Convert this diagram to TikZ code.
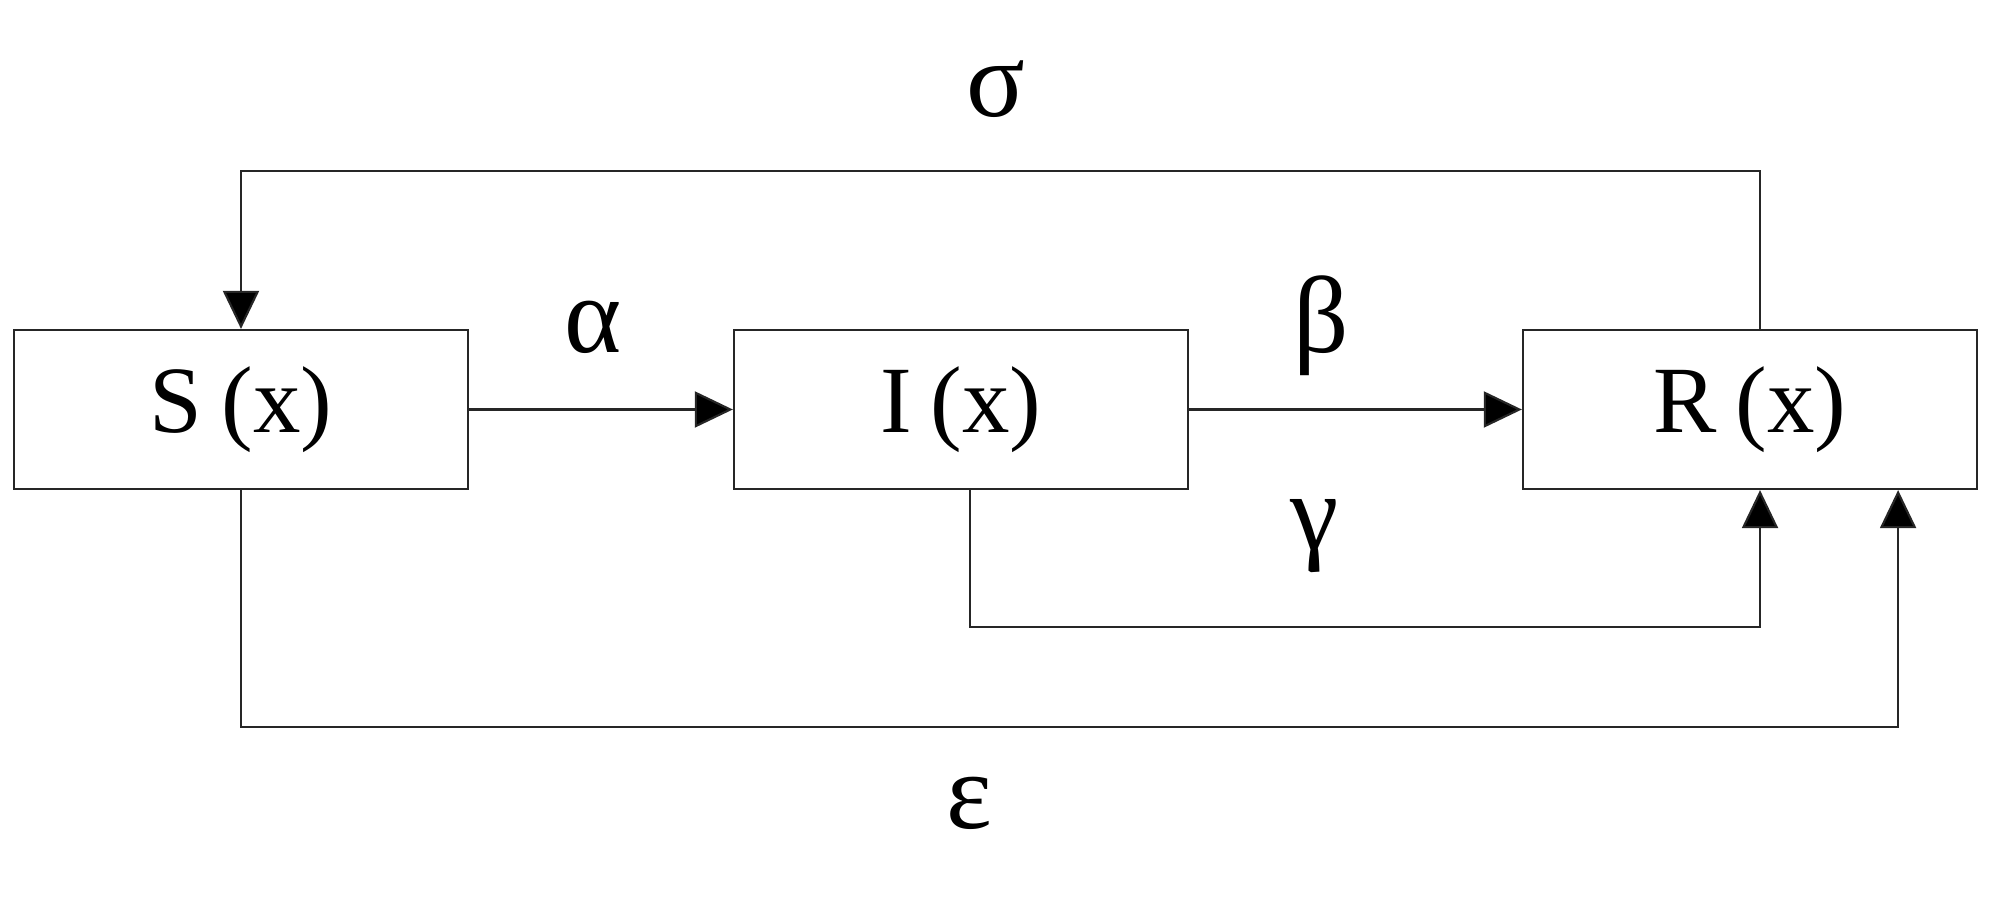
\documentclass[tikz,border=0pt]{standalone}
\usepackage{fontspec}
\setmainfont{Liberation Serif}
\usetikzlibrary{arrows.meta}
\tikzset{
  box/.style={draw=black!85, line width=0.6pt, minimum width=4.54cm, minimum height=1.59cm, inner sep=0pt, font=\fontsize{27}{31}\selectfont},
  conn/.style={draw=black!85, line width=0.6pt},
  arr/.style={conn, -{Triangle[length=3.8mm,width=3.6mm,fill=black]}},
  glab/.style={inner sep=0pt, anchor=base, font=\fontsize{31}{35}\selectfont}
}
\begin{document}
\begin{tikzpicture}[x=0.01cm, y=-0.01cm]
\useasboundingbox (0,0) rectangle (2000,907);
\node[box] (S) at (241,409.5) {S\hspace{0.2em}(x)};
\node[box] (I) at (961,409.5) {I\hspace{0.2em}(x)};
\node[box] (R) at (1750,409.5) {R\hspace{0.2em}(x)};
\draw[arr] (S.east) -- (I.west);
\draw[arr] (I.east) -- (R.west);
\draw[arr] ([xshift=1mm]R.north) -- ++(0,-158) -| (S.north);
\draw[arr] ([xshift=0.9mm]I.south) -- ++(0,137) -| ([xshift=1mm]R.south);
\draw[arr] (S.south) -- ++(0,237) -| ([xshift=14.8mm]R.south);
\node[glab] (sig) at (996,117) {σ};
\node[glab] (alp) at (593,353) {α};
\node[glab] (bet) at (1321,353) {β};
\node[glab] (gam) at (1315,550) {γ};
\node[glab] (eps) at (969,828) {ε};
\end{tikzpicture}
\end{document}
